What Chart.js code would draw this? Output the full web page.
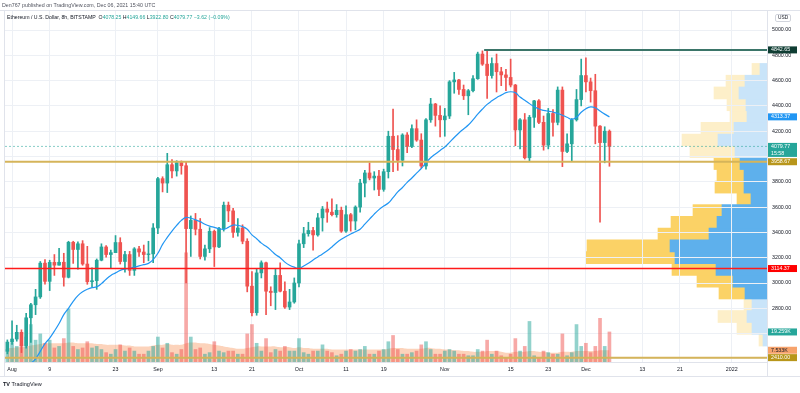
<!DOCTYPE html>
<html>
<head>
<meta charset="utf-8">
<script src="https://cdn.jsdelivr.net/npm/chart.js@4.4.0/dist/chart.umd.min.js"></script>
<style>
body { margin: 0; background: #fff; font-family: "Liberation Sans", Arial, sans-serif; }
#wrap { position: relative; width: 800px; height: 393px; overflow: hidden; }
#wrap canvas { position: absolute; left: 0; top: 0; }
.txt { position: absolute; white-space: nowrap; }
#pub { left: 2px; top: 2px; font-size: 5.3px; color: #50535e; }
#legend { left: 7px; top: 14px; font-size: 5.2px; color: #131722; }
#legend b { font-weight: normal; color: #26a69a; }
#usd { left: 775px; top: 14px; font-size: 4.8px; color: #131722; border: 1px solid #d1d4dc; border-radius: 2px; padding: 0 2px; line-height: 6px; }
#tv { left: 3px; top: 381px; font-size: 5.5px; color: #131722; }
#tv span { font-weight: bold; }
</style>
</head>
<body>
<div id="wrap">
  <canvas id="profile" width="800" height="393"></canvas>
  <canvas id="main" width="800" height="393"></canvas>
  <div class="txt" id="pub">Den767 published on TradingView.com, Dec 06, 2021 15:40 UTC</div>
  <div class="txt" id="legend">Ethereum / U.S. Dollar, 8h, BITSTAMP&nbsp;&nbsp;O<b>4078.25</b> H<b>4149.66</b> L<b>3922.80</b> C<b>4079.77</b> <b>&minus;3.62 (&minus;0.09%)</b></div>
  <div class="txt" id="usd">USD</div>
  <div class="txt" id="tv"><span>TV</span> TradingView</div>
</div>
<script>
// daily candles, Jul 31 .. Dec 6 2021
const opens = [2460,
  2533, 2557, 2610, 2505, 2725, 2828, 2890, 3157, 3013, 3163, 3141, 3164, 3045, 3322, 3265, 3310,
  3150, 3010, 3018, 3180, 3285, 3225, 3240, 3320, 3170, 3225, 3100, 3270, 3245, 3225, 3230,
  3435, 3825, 3790, 3935, 3886, 3952, 3927, 3430, 3495, 3425, 3210, 3270, 3408, 3285, 3430,
  3615, 3570, 3400, 3435, 3330, 2975, 2765, 3080, 3160, 2935, 2925, 3060, 2935, 2810, 2850,
  3000, 3310, 3390, 3415, 3380, 3515, 3585, 3560, 3540, 3575, 3410, 3540, 3490, 3600, 3790, 3870,
  3830, 3845, 3740, 3880, 4160, 4055, 3970, 4170, 4080, 4220, 4130, 3925, 4290, 4415, 4325,
  4290, 4320, 4590, 4605, 4530, 4480, 4520, 4615, 4810, 4730, 4640, 4735, 4670, 4645, 4625,
  4565, 4210, 4290, 3990, 4310, 4440, 4270, 4090, 4340, 4270, 4525, 4040, 4100, 4290, 4450,
  4640, 4590, 4520, 4240, 4110, 4200];
const highs = [2550,
  2700, 2666, 2630, 2760, 2840, 2950, 3170, 3185, 3180, 3225, 3275, 3235, 3330, 3330, 3325, 3335,
  3290, 3120, 3190, 3310, 3295, 3260, 3375, 3358, 3250, 3250, 3280, 3290, 3300, 3330, 3470,
  3835, 3840, 4025, 3975, 3967, 3965, 3960, 3530, 3550, 3510, 3300, 3438, 3418, 3440, 3640,
  3640, 3590, 3510, 3460, 3350, 3090, 3110, 3175, 3165, 2970, 3115, 3160, 3010, 2950, 3040,
  3340, 3440, 3480, 3440, 3550, 3605, 3640, 3665, 3620, 3600, 3610, 3550, 3610, 3820, 3890, 3950,
  3880, 3890, 3900, 4200, 4375, 4165, 4180, 4190, 4250, 4290, 4180, 4300, 4460, 4420, 4400,
  4380, 4600, 4665, 4610, 4565, 4530, 4640, 4825, 4835, 4843, 4780, 4810, 4705, 4690, 4770,
  4570, 4300, 4340, 4325, 4445, 4450, 4320, 4380, 4370, 4550, 4550, 4180, 4300, 4530, 4770,
  4780, 4620, 4650, 4245, 4235, 4210];
const lows = [2440,
  2515, 2540, 2450, 2485, 2530, 2750, 2878, 2990, 2940, 3060, 3140, 2975, 3040, 3155, 3110, 3140,
  2990, 2970, 2950, 3175, 3205, 3120, 3240, 3150, 3085, 3060, 3060, 3210, 3160, 3175, 3160,
  3390, 3720, 3715, 3830, 3845, 3860, 3000, 3210, 3380, 3190, 3180, 3240, 3130, 3280, 3410,
  3485, 3360, 3370, 3310, 2930, 2740, 2745, 3040, 2750, 2820, 2790, 2930, 2800, 2790, 2840,
  2970, 3280, 3370, 3260, 3370, 3410, 3480, 3530, 3520, 3400, 3400, 3410, 3420, 3560, 3680, 3815,
  3735, 3690, 3725, 3830, 3880, 3890, 3925, 4030, 4070, 4120, 3910, 3900, 4270, 4240, 4155,
  4160, 4300, 4500, 4490, 4450, 4330, 4510, 4610, 4720, 4460, 4620, 4510, 4560, 4520, 4550,
  4085, 4060, 3980, 3960, 4230, 4260, 4050, 4060, 4160, 4250, 3920, 4030, 3960, 4280, 4400,
  4510, 4430, 4100, 3480, 3950, 3922.8];
const closes = [2533,
  2557, 2610, 2505, 2725, 2828, 2890, 3157, 3013, 3163, 3141, 3164, 3045, 3322, 3265, 3310, 3150,
  3010, 3018, 3180, 3285, 3225, 3240, 3320, 3170, 3225, 3100, 3270, 3245, 3225, 3230, 3435,
  3825, 3790, 3935, 3886, 3952, 3927, 3430, 3495, 3425, 3210, 3270, 3408, 3285, 3430, 3615,
  3570, 3400, 3435, 3330, 2975, 2765, 3080, 3160, 2935, 2925, 3060, 2935, 2810, 2850, 3000,
  3310, 3390, 3415, 3380, 3515, 3585, 3560, 3540, 3575, 3410, 3540, 3490, 3600, 3790, 3870, 3830,
  3845, 3740, 3880, 4160, 4055, 3970, 4170, 4080, 4220, 4130, 3925, 4290, 4415, 4325, 4290,
  4320, 4590, 4605, 4530, 4480, 4520, 4615, 4810, 4730, 4640, 4735, 4670, 4645, 4625, 4565,
  4210, 4290, 3990, 4310, 4440, 4270, 4090, 4340, 4270, 4525, 4040, 4100, 4290, 4450, 4640,
  4590, 4520, 4240, 4110, 4200, 4079.77];

// blue moving average
const maValues = [2250,
  2280, 2305, 2330, 2345, 2365, 2400, 2460, 2520, 2565, 2620, 2680, 2750, 2800, 2855, 2900, 2930,
  2950, 2963, 2970, 2995, 3030, 3060, 3080, 3100, 3110, 3115, 3125, 3135, 3145, 3155, 3185,
  3235, 3305, 3360, 3410, 3455, 3495, 3519, 3512, 3500, 3485, 3465, 3450, 3440, 3430, 3424,
  3440, 3458, 3455, 3446, 3425, 3380, 3350, 3315, 3290, 3260, 3225, 3200, 3165, 3140, 3125,
  3116, 3135, 3156, 3182, 3206, 3230, 3255, 3285, 3318, 3345, 3368, 3388, 3405, 3425, 3465, 3505,
  3545, 3580, 3608, 3632, 3675, 3720, 3755, 3795, 3830, 3868, 3905, 3950, 3990, 4020, 4048,
  4075, 4112, 4150, 4186, 4218, 4249, 4290, 4335, 4375, 4412, 4440, 4465, 4485, 4505, 4512,
  4505, 4470, 4445, 4418, 4395, 4375, 4365, 4358, 4352, 4340, 4326, 4310, 4294, 4310, 4350,
  4378, 4392, 4385, 4360, 4335, 4313.37];

// volume (K) and its moving average
const volumes = [8,
  12, 10, 11, 16, 24, 14, 18, 12, 14, 9, 10, 15, 34, 10, 8, 9,
  13, 9, 10, 8, 6, 5, 8, 11, 7, 9, 7, 5, 5, 7, 10,
  16, 9, 12, 6, 5, 8, 70, 16, 8, 9, 5, 6, 13, 7, 6,
  7, 7, 5, 5, 18, 24, 12, 7, 15, 6, 8, 7, 10, 7, 7,
  15, 6, 5, 7, 7, 11, 7, 6, 4, 5, 7, 8, 7, 8, 10, 5,
  5, 7, 8, 13, 17, 8, 5, 5, 6, 7, 11, 13, 8, 5, 5,
  7, 8, 7, 5, 5, 4, 4, 8, 7, 14, 5, 7, 4, 3, 5,
  15, 7, 10, 26, 4, 3, 7, 6, 5, 5, 18, 4, 6, 24, 10,
  12, 6, 10, 28, 10, 19.259];
const volMA = [9,
  9, 9.5, 9.5, 10, 10.5, 11, 11.5, 12, 12, 12, 12, 12, 12.5, 12.5, 12, 12,
  12, 12, 11.5, 11.5, 11, 11, 11, 11, 10.5, 10.5, 10, 10, 10, 10, 10.5,
  11, 11, 11.5, 11, 11, 11, 12, 12.5, 12.5, 12, 12, 11.5, 11, 10.5, 10,
  9.5, 9, 8.5, 8.5, 9, 9.5, 10, 10, 10, 10, 10, 9.5, 9.5, 9.5, 9,
  9.5, 9, 9, 8.5, 8.5, 8.5, 8.5, 8, 8, 8, 8, 8, 8, 8, 8, 8,
  8, 8, 8, 8.5, 9, 9, 9, 8.5, 8.5, 8.5, 8.5, 9, 9, 8.5, 8.5,
  8, 8, 7.5, 7.5, 7, 7, 6.5, 6.5, 6.5, 7, 7, 7, 6.5, 6, 6,
  6.5, 6.5, 6.5, 7, 7, 6.5, 6.5, 6, 6, 6, 6.5, 6.5, 6.5, 7, 7,
  7, 7, 7, 7.5, 7.5, 7.533];

// horizontal levels drawn by the author
const levelPrices = [4842.65, 3958.67, 3114.37, 2410.00];
const lastPrice = 4079.77;

// price axis ticks
const priceTicks = [2400, 2600, 2800, 3000, 3200, 3400, 3600, 3800, 4000, 4200, 4400, 4600, 4800, 5000];
const priceLabelFrom = 2800;

// volume profile rows (row centre price, up volume, down volume)
const profileRows = [2375.6, 2481.9, 2588.2, 2694.5, 2800.8, 2907.1, 3013.4, 3119.7, 3226.0, 3332.3, 3438.6, 3544.9,
  3651.2, 3757.5, 3863.8, 3970.1, 4076.4, 4182.7, 4289.0, 4395.3, 4501.6, 4607.9, 4714.2, 4820.5];
const profileUp = [4, 15, 20, 15, 22, 34, 51, 92, 97, 58, 50, 45, 16, 23, 23, 27, 32, 49, 33, 20, 21, 28, 22, 7];
const profileDown = [4, 15, 29, 8, 26, 36, 44, 89, 83, 51, 46, 29, 14, 29, 27, 26, 45, 36, 33, 17, 19, 25, 19, 8];
const valueAreaLow = 2745, valueAreaHigh = 4025;

const tickLabels = {
  '2021-08-01': 'Aug', '2021-08-09': '9', '2021-08-23': '23', '2021-09-01': 'Sep', '2021-09-13': '13',
  '2021-09-21': '21', '2021-10-01': 'Oct', '2021-10-11': '11', '2021-10-19': '19', '2021-11-01': 'Nov',
  '2021-11-15': '15', '2021-11-23': '23', '2021-12-01': 'Dec', '2021-12-13': '13', '2021-12-21': '21',
  '2022-01-01': '2022'
};

const days = [];
const startDay = Date.UTC(2021, 6, 31);
for (let i = 0; i < 162; i++) {
    days.push(new Date(startDay + i * 864e5).toISOString().slice(0, 10));
}

const priceMin = 2375.5;
const priceMax = 5150.2;
const up = "#26a69a";
const down = "#ef5350";
const gridColor = "#edf0f5";
const font = "Liberation Sans";
Chart.defaults.font.family = font;

const isUp = (i) => closes[i] >= opens[i];

const levelPlugin = {
    id: "levels",
    afterDatasetsDraw(chart) {
        const { ctx, chartArea: a, scales } = chart;
        const y = scales.y;
        const x = scales.x;
        const colors = ["#3b7569", "#d5b45a", "#ff1a1a", "#d5b45a"];
        const widths = [2, 2, 1.5, 2];
        const from = ["2021-11-10", null, null, null];
        ctx.save();
        ctx.beginPath();
        ctx.rect(a.left, a.top, a.width, a.height);
        ctx.clip();
        const py = y.getPixelForValue(lastPrice);
        ctx.setLineDash([2, 2]);
        ctx.strokeStyle = "rgba(38,166,154,0.55)";
        ctx.lineWidth = 1;
        ctx.beginPath();
        ctx.moveTo(a.left, py);
        ctx.lineTo(a.right, py);
        ctx.stroke();
        ctx.setLineDash([]);
        levelPrices.forEach((p, i) => {
            const ly = y.getPixelForValue(p);
            const x0 = from[i] ? x.getPixelForValue(days.indexOf(from[i])) - 3 : a.left;
            ctx.strokeStyle = colors[i];
            ctx.lineWidth = widths[i];
            ctx.beginPath();
            ctx.moveTo(x0, ly);
            ctx.lineTo(a.right, ly);
            ctx.stroke();
        });
        ctx.restore();
    },
    afterDraw(chart) {
        const { ctx, chartArea: a, scales } = chart;
        const y = scales.y;
        const vol = scales.vol;
        ctx.save();
        // frame
        ctx.strokeStyle = "#e0e3eb";
        ctx.lineWidth = 1;
        ctx.beginPath();
        ctx.moveTo(0, 10.5); ctx.lineTo(800, 10.5);
        ctx.moveTo(0, 376.5); ctx.lineTo(800, 376.5);
        ctx.moveTo(a.right + 0.5, 10.5); ctx.lineTo(a.right + 0.5, 376.5);
        ctx.moveTo(4.5, 10.5); ctx.lineTo(4.5, 376.5);
        ctx.stroke();

        const tag = (yPix, text, bg, fg, text2) => {
            const h = text2 ? 14 : 7;
            ctx.fillStyle = bg;
            ctx.fillRect(a.right + 1, yPix - 3.5, 29, h);
            ctx.fillStyle = fg;
            ctx.font = "5.3px " + font;
            ctx.textBaseline = "middle";
            ctx.textAlign = "left";
            ctx.fillText(text, a.right + 4, yPix);
            if (text2) ctx.fillText(text2, a.right + 4, yPix + 7);
        };
        tag(y.getPixelForValue(levelPrices[0]), levelPrices[0].toFixed(2), "#0f3d33", "#fff");
        tag(y.getPixelForValue(maValues[maValues.length - 1]), maValues[maValues.length - 1].toFixed(2), "#2196f3", "#fff");
        tag(y.getPixelForValue(lastPrice), lastPrice.toFixed(2), "#26a69a", "#fff", "15:58");
        tag(y.getPixelForValue(levelPrices[1]), levelPrices[1].toFixed(2), "#b8961b", "#fff");
        tag(y.getPixelForValue(levelPrices[2]), levelPrices[2].toFixed(2), "#ff0000", "#fff");
        tag(vol.getPixelForValue(volumes[volumes.length - 1]), volumes[volumes.length - 1].toFixed(3) + "K", "#26a69a", "#fff");
        tag(vol.getPixelForValue(volMA[volMA.length - 1]), volMA[volMA.length - 1].toFixed(3) + "K", "#f7a36c", "#131722");
        tag(y.getPixelForValue(levelPrices[3]), levelPrices[3].toFixed(2), "#b8961b", "#fff");
        ctx.restore();
    },
};

new Chart(document.getElementById("profile"), {
    type: "bar",
    data: {
        datasets: [
            {
                label: "Up",
                data: profileRows.map((p, i) => ({ x: profileUp[i], y: p })),
                backgroundColor: (c) => {
                    const p = profileRows[c.dataIndex];
                    return p > valueAreaLow && p < valueAreaHigh ? "#5eb0ec" : "#c9e4f9";
                },
                barThickness: 12,
            },
            {
                label: "Down",
                data: profileRows.map((p, i) => ({ x: profileDown[i], y: p })),
                backgroundColor: (c) => {
                    const p = profileRows[c.dataIndex];
                    return p > valueAreaLow && p < valueAreaHigh ? "#fbd266" : "#fdefc9";
                },
                barThickness: 12,
            },
        ],
    },
    options: {
        indexAxis: "y",
        responsive: false,
        animation: false,
        devicePixelRatio: 1,
        layout: { padding: { left: 5, right: 33, top: 11, bottom: 31 } },
        plugins: { legend: { display: false }, tooltip: { enabled: false } },
        scales: {
            x: { type: "linear", display: false, reverse: true, min: 0, max: 762, stacked: true },
            y: { type: "linear", display: false, min: priceMin, max: priceMax, stacked: true },
        },
    },
});

new Chart(document.getElementById("main"), {
    type: "bar",
    data: {
        labels: days,
        datasets: [
            {
                type: "line",
                label: "MA",
                data: maValues,
                borderColor: "#2196f3",
                borderWidth: 1.2,
                pointRadius: 0,
                tension: 0.4,
                yAxisID: "y",
            },
            {
                label: "Body",
                data: opens.map((o, i) => [o, closes[i]]),
                backgroundColor: (c) => (isUp(c.dataIndex) ? up : down),
                barThickness: 3,
                grouped: false,
                yAxisID: "y",
            },
            {
                label: "Wick",
                data: lows.map((l, i) => [l, highs[i]]),
                backgroundColor: (c) => (isUp(c.dataIndex) ? up : down),
                barThickness: 1,
                grouped: false,
                yAxisID: "y",
            },
            {
                label: "Volume",
                data: volumes,
                backgroundColor: (c) => (isUp(c.dataIndex) ? "rgba(38,166,154,0.5)" : "rgba(239,83,80,0.5)"),
                barThickness: 3,
                grouped: false,
                yAxisID: "vol",
            },
            {
                type: "line",
                label: "Volume MA",
                data: volMA,
                fill: "origin",
                backgroundColor: "rgba(247,130,60,0.35)",
                borderWidth: 0,
                pointRadius: 0,
                tension: 0.4,
                yAxisID: "vol",
            },
        ],
    },
    options: {
        responsive: false,
        animation: false,
        devicePixelRatio: 1,
        layout: { padding: { left: 5, top: 11, right: 0, bottom: 0 } },
        plugins: { legend: { display: false }, tooltip: { enabled: false } },
        scales: {
            x: {
                offset: true,
                grid: {
                    offset: false,
                    drawTicks: false,
                    color: (c) => (tickLabels[days[c.index]] ? gridColor : "rgba(0,0,0,0)"),
                },
                border: { color: "#e0e3eb" },
                ticks: {
                    autoSkip: false,
                    maxRotation: 0,
                    padding: 4,
                    color: "#131722",
                    font: { size: 5.3 },
                    callback: (v, i) => tickLabels[days[i]] || "",
                },
                afterFit: (s) => {
                    s.height = 31;
                },
            },
            y: {
                position: "right",
                min: priceMin,
                max: priceMax,
                grid: { color: gridColor, drawTicks: false },
                border: { color: "#e0e3eb" },
                afterBuildTicks: (s) => {
                    s.ticks = priceTicks.map((v) => ({ value: v }));
                },
                ticks: {
                    autoSkip: false,
                    padding: 5,
                    color: "#131722",
                    font: { size: 5.3 },
                    // 4000 sits under the last-price tag, 2400/2600 under the volume tags
                    callback: (v) => (v >= priceLabelFrom && v !== 4000 ? v.toFixed(2) : ""),
                },
                afterFit: (s) => {
                    s.width = 33;
                },
            },
            vol: { display: false, min: 0, max: 225 },
        },
    },
    plugins: [levelPlugin],
});
</script>
</body>
</html>
